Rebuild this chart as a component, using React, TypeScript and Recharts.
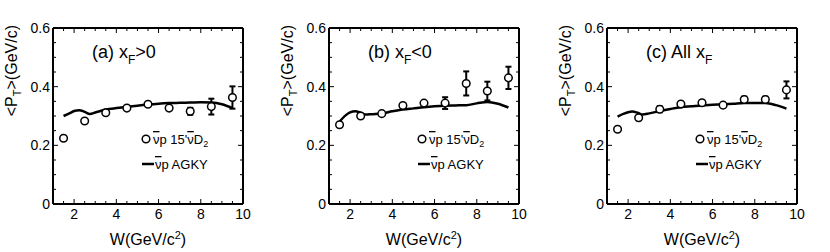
import {
  ComposedChart,
  ErrorBar,
  Line,
  Scatter,
  XAxis,
  YAxis,
} from "recharts";

// measured points sit at the bin centres
const W_BINS = [1.5, 2.5, 3.5, 4.5, 5.5, 6.5, 7.5, 8.5, 9.5];

const PT_A = [0.224, 0.283, 0.311, 0.327, 0.340, 0.327, 0.316, 0.332, 0.363];
const ERR_A = [0.004, 0.006, 0.005, 0.005, 0.005, 0.006, 0.012, 0.027, 0.038];
const PT_B = [0.270, 0.300, 0.308, 0.336, 0.344, 0.344, 0.411, 0.385, 0.430];
const ERR_B = [0.005, 0.005, 0.008, 0.005, 0.005, 0.020, 0.041, 0.032, 0.038];
const PT_C = [0.255, 0.294, 0.323, 0.341, 0.345, 0.337, 0.356, 0.356, 0.389];
const ERR_C = [0.004, 0.005, 0.010, 0.005, 0.005, 0.008, 0.010, 0.010, 0.029];

// AGKY model curves
const CURVE_W_A = [1.5, 1.8, 2.0, 2.25, 2.5, 2.75, 3.0, 3.5, 4.0, 4.5, 5.0, 5.5, 6.0, 6.5, 7.0, 7.5, 8.0, 8.5, 9.0, 9.5];
const CURVE_A = [0.300, 0.310, 0.317, 0.320, 0.314, 0.307, 0.312, 0.322, 0.327, 0.331, 0.335, 0.339, 0.342, 0.344, 0.345, 0.346, 0.347, 0.346, 0.340, 0.327];
const CURVE_W_B = [1.4, 1.6, 1.8, 2.0, 2.25, 2.5, 2.75, 3.0, 3.5, 4.0, 4.5, 5.0, 5.5, 6.0, 6.5, 7.0, 7.5, 8.0, 8.5, 9.0, 9.5];
const CURVE_B = [0.272, 0.289, 0.303, 0.312, 0.316, 0.311, 0.305, 0.306, 0.309, 0.316, 0.322, 0.326, 0.330, 0.333, 0.335, 0.336, 0.337, 0.343, 0.348, 0.342, 0.329];
const CURVE_W_C = [1.5, 1.8, 2.0, 2.2, 2.45, 2.7, 3.0, 3.5, 4.0, 4.5, 5.0, 5.5, 6.0, 6.5, 7.0, 7.5, 8.0, 8.5, 9.0, 9.5];
const CURVE_C = [0.298, 0.308, 0.313, 0.315, 0.311, 0.305, 0.309, 0.317, 0.324, 0.330, 0.333, 0.336, 0.338, 0.340, 0.342, 0.344, 0.344, 0.344, 0.337, 0.325];

const X_TICKS = [1.5, 2, 2.5, 3, 3.5, 4, 4.5, 5, 5.5, 6, 6.5, 7, 7.5, 8, 8.5, 9, 9.5, 10];
const X_LABELS = [2, 4, 6, 8, 10];
const Y_TICKS = [0, 0.05, 0.1, 0.15, 0.2, 0.25, 0.3, 0.35, 0.4, 0.45, 0.5, 0.55, 0.6];
const Y_LABELS = [0, 0.2, 0.4, 0.6];

const FONT = "'Liberation Sans', Arial, Helvetica, sans-serif";
const W = 277;
const H = 252;
const LEFT = 53;
const TOP = 28;
const BOTTOM = 48;
const RIGHT = 34;
const PLOT_W = W - LEFT - RIGHT;
const PLOT_H = H - TOP - BOTTOM;

function XTick(props: any) {
  const { x, y, payload } = props;
  const major = X_LABELS.includes(payload.value);
  const len = major ? 5 : 3;
  return (
    <g>
      <line x1={x} x2={x} y1={y} y2={y - len} stroke="#000" strokeWidth={1} />
      <line x1={x} x2={x} y1={y - PLOT_H} y2={y - PLOT_H + len} stroke="#000" strokeWidth={1} />
      {major && (
        <text x={x} y={y + 15} textAnchor="middle" fontSize={14} fontFamily={FONT} fill="#000">
          {payload.value}
        </text>
      )}
    </g>
  );
}

function YTick(props: any) {
  const { x, y, payload } = props;
  const major = Y_LABELS.includes(payload.value);
  const len = major ? 5 : 3;
  return (
    <g>
      <line x1={x} x2={x + len} y1={y} y2={y} stroke="#000" strokeWidth={1} />
      <line x1={x + PLOT_W} x2={x + PLOT_W - len} y1={y} y2={y} stroke="#000" strokeWidth={1} />
      {major && (
        <text x={x - 3} y={y + 5} textAnchor="end" fontSize={14} fontFamily={FONT} fill="#000">
          {payload.value === 0 ? "0" : payload.value.toFixed(1)}
        </text>
      )}
    </g>
  );
}

function Dot(props: any) {
  const { cx, cy } = props;
  return <circle cx={cx} cy={cy} r={3.8} fill="#fff" stroke="#000" strokeWidth={1.5} />;
}

function NuBar() {
  return <tspan style={{ textDecoration: "overline" }}>ν</tspan>;
}

function Panel({
  left,
  pts,
  errs,
  curveW,
  curve,
  title,
}: {
  left: number;
  pts: number[];
  errs: number[];
  curveW: number[];
  curve: number[];
  title: React.ReactNode;
}) {
  const points = W_BINS.map((w, i) => ({ x: w, y: pts[i], err: errs[i] }));
  const model = curveW.map((w, i) => ({ x: w, y: curve[i] }));
  return (
    <div style={{ position: "absolute", left, top: 0, width: W, height: H }}>
      <ComposedChart width={W} height={H} margin={{ top: TOP, right: RIGHT, bottom: 0, left: 0 }}>
        <XAxis
          type="number"
          dataKey="x"
          domain={[1, 10]}
          ticks={X_TICKS}
          interval={0}
          height={BOTTOM}
          tickSize={0}
          tickMargin={0}
          tickLine={false}
          axisLine={{ stroke: "#000", strokeWidth: 2 }}
          tick={<XTick />}
          allowDataOverflow
        />
        <YAxis
          type="number"
          domain={[0, 0.6]}
          ticks={Y_TICKS}
          interval={0}
          width={LEFT}
          tickSize={0}
          tickMargin={0}
          tickLine={false}
          axisLine={{ stroke: "#000", strokeWidth: 2 }}
          tick={<YTick />}
          allowDataOverflow
        />
        <Line
          data={model}
          dataKey="y"
          type="monotone"
          stroke="#000"
          strokeWidth={2.5}
          dot={false}
          isAnimationActive={false}
        />
        <Scatter data={points} dataKey="y" shape={<Dot />} isAnimationActive={false}>
          <ErrorBar dataKey="err" direction="y" width={3} stroke="#000" strokeWidth={2} />
        </Scatter>
      </ComposedChart>
      <svg
        width={W}
        height={H}
        style={{ position: "absolute", left: 0, top: 0, pointerEvents: "none" }}
        fontFamily={FONT}
      >
        {/* top and right frame */}
        <line x1={LEFT} x2={LEFT + PLOT_W} y1={TOP} y2={TOP} stroke="#000" strokeWidth={2} />
        <line x1={LEFT + PLOT_W} x2={LEFT + PLOT_W} y1={TOP} y2={TOP + PLOT_H} stroke="#000" strokeWidth={2} />
        <text x={92} y={58} fontSize={18}>
          {title}
        </text>
        {/* legend */}
        <circle cx={146} cy={139} r={3.8} fill="#fff" stroke="#000" strokeWidth={1.5} />
        <text x={153} y={144} fontSize={13}>
          <NuBar />p 15'<NuBar />D<tspan fontSize={9} dy={3}>2</tspan>
        </text>
        <line x1={142} x2={154} y1={164} y2={164} stroke="#000" strokeWidth={2.5} />
        <text x={155} y={169} fontSize={13}>
          <NuBar />p AGKY
        </text>
        {/* axis titles */}
        <text x={LEFT + PLOT_W / 2} y={245} fontSize={16} textAnchor="middle">
          W(GeV/c<tspan fontSize={11} dy={-6}>2</tspan>
          <tspan dy={6}>)</tspan>
        </text>
        <text transform="translate(17,25) rotate(-90)" fontSize={16} textAnchor="end">
          {"<P"}
          <tspan fontSize={11} dy={4}>T</tspan>
          <tspan dy={-4}>{">(GeV/c)"}</tspan>
        </text>
      </svg>
    </div>
  );
}

export default function App() {
  return (
    <div style={{ position: "absolute", left: 0, top: 0, width: 830, height: 252, background: "#fff" }}>
      <Panel
        left={0}
        pts={PT_A}
        errs={ERR_A}
        curveW={CURVE_W_A}
        curve={CURVE_A}
        title={
          <>
            (a) x<tspan fontSize={12} dy={6}>F</tspan>
            <tspan dy={-6}>{">0"}</tspan>
          </>
        }
      />
      <Panel
        left={276}
        pts={PT_B}
        errs={ERR_B}
        curveW={CURVE_W_B}
        curve={CURVE_B}
        title={
          <>
            (b) x<tspan fontSize={12} dy={6}>F</tspan>
            <tspan dy={-6}>{"<0"}</tspan>
          </>
        }
      />
      <Panel
        left={554}
        pts={PT_C}
        errs={ERR_C}
        curveW={CURVE_W_C}
        curve={CURVE_C}
        title={
          <>
            (c) All x<tspan fontSize={12} dy={6}>F</tspan>
          </>
        }
      />
    </div>
  );
}
